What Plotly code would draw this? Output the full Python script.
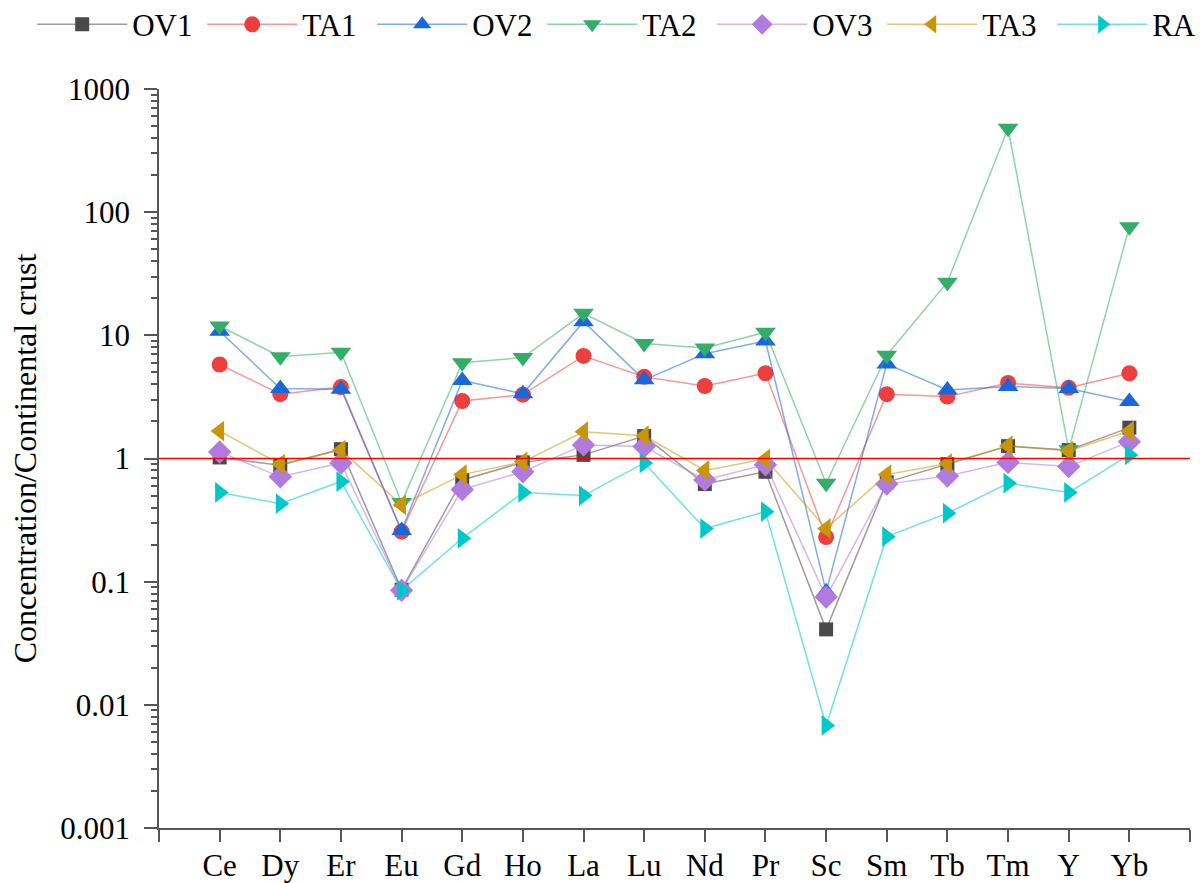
import numpy as np
import plotly.graph_objects as go

elements = ["Ce", "Dy", "Er", "Eu", "Gd", "Ho", "La", "Lu", "Nd", "Pr", "Sc", "Sm", "Tb", "Tm", "Y", "Yb"]

OV1 = [1.02, 0.88, 1.19, 0.086, 0.67, 0.93, 1.07, 1.52, 0.62, 0.78, 0.041, 0.64, 0.90, 1.26, 1.17, 1.78]
TA1 = [5.8, 3.33, 3.8, 0.255, 2.93, 3.3, 6.8, 4.6, 3.88, 4.92, 0.23, 3.33, 3.18, 4.1, 3.75, 4.92]
OV2 = [10.8, 3.7, 3.65, 0.26, 4.3, 3.35, 12.9, 4.35, 7.1, 9.0, 0.083, 5.86, 3.6, 3.85, 3.7, 2.9]
TA2 = [11.9, 6.7, 7.3, 0.44, 6.0, 6.6, 15.1, 8.6, 7.9, 10.6, 0.63, 6.9, 27.0, 480.0, 1.18, 76.0]
OV3 = [1.13, 0.71, 0.92, 0.085, 0.56, 0.78, 1.29, 1.25, 0.67, 0.89, 0.075, 0.62, 0.72, 0.93, 0.86, 1.37]
TA3 = [1.67, 0.90, 1.17, 0.42, 0.74, 0.94, 1.65, 1.53, 0.80, 0.99, 0.27, 0.74, 0.91, 1.27, 1.15, 1.67]
RA = [0.53, 0.43, 0.65, 0.085, 0.225, 0.53, 0.50, 0.92, 0.27, 0.37, 0.0068, 0.232, 0.36, 0.63, 0.53, 1.07]

series = [
    ("OV1", OV1, "#4a4a4a", "rgba(74,74,74,0.55)", "square", 14),
    ("TA1", TA1, "#ee3f3f", "rgba(238,63,63,0.55)", "circle", 16),
    ("OV2", OV2, "#1a66dc", "rgba(26,102,220,0.55)", "triangle-up", 18),
    ("TA2", TA2, "#34ad69", "rgba(52,173,105,0.55)", "triangle-down", 18),
    ("OV3", OV3, "#b07ade", "rgba(176,122,222,0.55)", "diamond", 18),
    ("TA3", TA3, "#c9960a", "rgba(201,150,10,0.55)", "triangle-left", 18),
    ("RA", RA, "#00c8c8", "rgba(0,200,200,0.55)", "triangle-right", 18),
]

x = np.arange(len(elements))
fig = go.Figure()
for name, vals, mc, lc, sym, sz in series:
    fig.add_trace(go.Scatter(
        x=x, y=vals, name=name, mode="lines+markers",
        line=dict(color=lc, width=1.5),
        marker=dict(symbol=sym, size=sz, color=mc, line=dict(width=0)),
    ))

fig.add_hline(y=1, line=dict(color="#ff0000", width=1.5), layer="above")

font_family = "Times New Roman, Liberation Serif, serif"
fig.update_layout(
    width=1200, height=883,
    margin=dict(l=159, r=10, t=89, b=55, autoexpand=False),
    plot_bgcolor="white", paper_bgcolor="white",
    font=dict(family=font_family, size=31, color="black"),
    showlegend=True,
    legend=dict(
        orientation="h", xref="paper", yref="paper",
        x=-0.123, y=1.087, xanchor="left", yanchor="middle",
        font=dict(family=font_family, size=31),
        entrywidth=65, entrywidthmode="pixels",
        itemwidth=90, bgcolor="rgba(0,0,0,0)",
    ),
    xaxis=dict(
        range=[-1, len(elements)],
        tickvals=list(range(-1, len(elements) + 1)),
        ticktext=[""] + elements + [""],
        ticks="outside", ticklen=12, tickwidth=1.5, tickcolor="#555",
        showline=True, linecolor="#555", linewidth=1.5,
        showgrid=False, zeroline=False,
        tickfont=dict(family=font_family, size=31),
        ticklabelstandoff=-3,
    ),
    yaxis=dict(
        type="log", range=[-3, 3],
        tickvals=[0.001, 0.01, 0.1, 1, 10, 100, 1000],
        ticktext=["0.001", "0.01", "0.1", "1", "10", "100", "1000"],
        ticks="outside", ticklen=13, tickwidth=1.5, tickcolor="#555",
        minor=dict(ticks="outside", ticklen=6, tickwidth=1.5, tickcolor="#555", dtick="D1", showgrid=False),
        showline=True, linecolor="#555", linewidth=1.5,
        showgrid=False, zeroline=False,
        tickfont=dict(family=font_family, size=31),
        ticklabelstandoff=8,
        title=dict(text="Concentration/Continental crust", font=dict(family=font_family, size=32), standoff=14),
    ),
)

fig.write_html("out.html")
